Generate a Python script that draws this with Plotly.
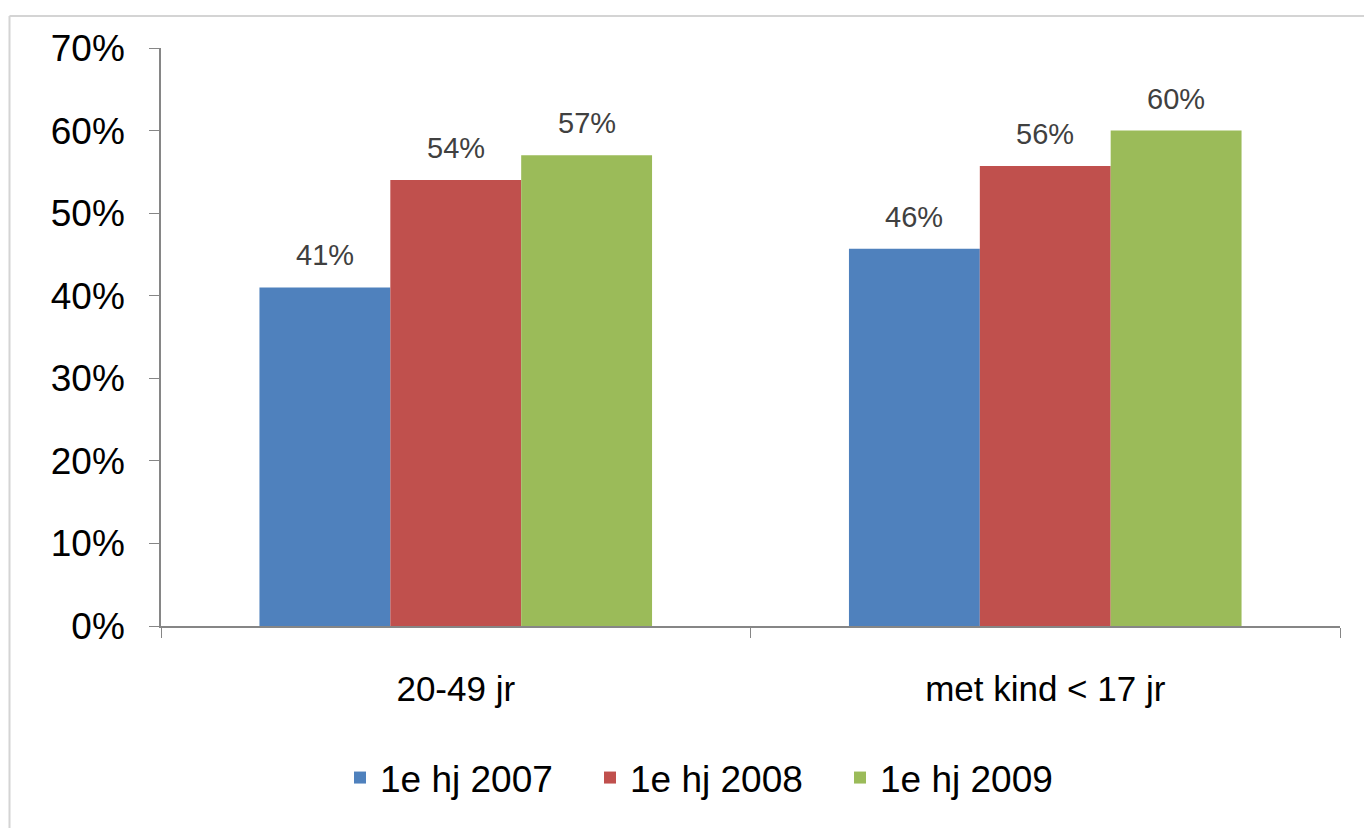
import plotly.graph_objects as go

categories = ["20-49 jr", "met kind < 17 jr"]
series_names = ["1e hj 2007", "1e hj 2008", "1e hj 2009"]
values_2007 = [0.41, 0.457]
values_2008 = [0.54, 0.557]
values_2009 = [0.57, 0.60]
series_values = [values_2007, values_2008, values_2009]
colors = ["#4F81BD", "#C0504D", "#9BBB59"]
y_ticks = [0, 0.1, 0.2, 0.3, 0.4, 0.5, 0.6, 0.7]

# page body has an 8px margin; figure coords = screenshot coords - 8
OFF = 8
W, H = 1372, 828
L, T = 161 - OFF, 48 - OFF
R = W - (1340 - OFF)
B = H - (626 - OFF)
pw, ph = W - L - R, H - T - B

def px_x(px):
    return (px - OFF - L) / pw

def px_y(py):
    return (H - B - (py - OFF)) / ph

bargap = 0.334
fig = go.Figure()
for name, vals, col in zip(series_names, series_values, colors):
    fig.add_trace(go.Bar(name=name, x=categories, y=vals, marker=dict(color=col, line=dict(width=0))))

n = len(series_names)
slot = (1 - bargap) / n
annotations = []
for si, vals in enumerate(series_values):
    for ci, v in enumerate(vals):
        annotations.append(dict(
            x=ci + (si - (n - 1) / 2) * slot, y=v, xref="x", yref="y",
            text=f"{round(v * 100):.0f}%", showarrow=False, yanchor="bottom",
            yshift=14, font=dict(size=29, color="#404040", family="Liberation Sans, Arial")))

fig.update_layout(
    width=W, height=H,
    margin=dict(l=L, r=R, t=T, b=B),
    paper_bgcolor="white", plot_bgcolor="white",
    barmode="group", bargap=bargap, bargroupgap=0,
    font=dict(family="Liberation Sans, Arial", color="black"),
    showlegend=True,
    legend=dict(orientation="h", x=px_x(715), xanchor="center", y=px_y(778), yanchor="middle",
                font=dict(size=37), itemwidth=30, entrywidth=205, traceorder="normal"),
    annotations=annotations,
    shapes=[
        dict(type="line", xref="paper", yref="paper", x0=px_x(9.5), x1=1.2, y0=px_y(16), y1=px_y(16),
             line=dict(color="#D4D4D4", width=2)),
        dict(type="line", xref="paper", yref="paper", x0=px_x(9.5), x1=px_x(9.5), y0=px_y(16), y1=-0.5,
             line=dict(color="#D4D4D4", width=2)),
    ],
)
fig.update_yaxes(range=[0, 0.7], tickvals=y_ticks, tickformat=".0%", showgrid=False, zeroline=False,
                 showline=True, linecolor="#868686", linewidth=1.5, ticks="outside", ticklen=10,
                 tickcolor="#868686", tickfont=dict(size=37), ticklabelstandoff=17)
fig.update_xaxes(showgrid=False, showline=True, linecolor="#868686", linewidth=1.5, ticks="outside",
                 ticklen=10, tickcolor="#868686", tickson="boundaries", tickfont=dict(size=35),
                 ticklabelstandoff=31)

fig.write_html("out.html")
